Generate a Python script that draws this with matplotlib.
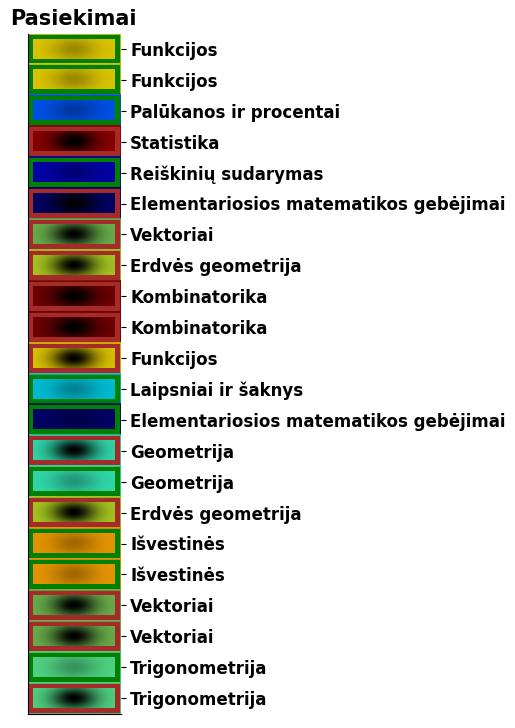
import numpy as np
import matplotlib
matplotlib.use('Agg')
import matplotlib.pyplot as plt
from matplotlib.patches import Rectangle
from matplotlib.colors import to_rgb

# topics, top to bottom
topics = ['Funkcijos', 'Funkcijos', 'Palūkanos ir procentai', 'Statistika',
          'Reiškinių sudarymas', 'Elementariosios matematikos gebėjimai',
          'Vektoriai', 'Erdvės geometrija', 'Kombinatorika', 'Kombinatorika',
          'Funkcijos', 'Laipsniai ir šaknys',
          'Elementariosios matematikos gebėjimai', 'Geometrija', 'Geometrija',
          'Erdvės geometrija', 'Išvestinės', 'Išvestinės', 'Vektoriai',
          'Vektoriai', 'Trigonometrija', 'Trigonometrija']

# passed (green) or failed (red)
passed = [True, True, True, False, True, False, False, False, False, False,
          False, True, True, False, True, False, True, True, False, False,
          True, False]

topic_colors = {
    'Funkcijos': '#DCC400',
    'Palūkanos ir procentai': '#0050E6',
    'Statistika': '#8B0000',
    'Reiškinių sudarymas': '#0000A8',
    'Elementariosios matematikos gebėjimai': '#000066',
    'Vektoriai': '#6AB04C',
    'Erdvės geometrija': '#A8C820',
    'Kombinatorika': '#700000',
    'Laipsniai ir šaknys': '#00BCD4',
    'Geometrija': '#30D8AA',
    'Išvestinės': '#E69500',
    'Trigonometrija': '#50D282',
}

ok_bg = '#008000'
bad_bg = '#A52A2A'

fig = plt.figure(figsize=(5.15, 7.28), dpi=100)
ax = fig.add_axes([27.5 / 515, 1 - 713.5 / 728, 93 / 515, 680 / 728])

# shading mask for the inner boxes
nx, ny = 80, 20
gx, gy = np.meshgrid(np.linspace(-1, 1, nx), np.linspace(-1, 1, ny))
blob = np.exp(-(gx ** 2 / 0.3 + gy ** 2 / 1.4))

n = len(topics)
for i, (t, p) in enumerate(zip(topics, passed)):
    col = topic_colors[t]
    ax.add_patch(Rectangle((0, i), 1, 1, facecolor=ok_bg if p else bad_bg,
                           edgecolor=col, lw=1.2, zorder=1))
    depth = 0.3 if p else 1.0
    img = np.array(to_rgb(col))[None, None, :] * (1 - depth * blob)[:, :, None]
    ax.imshow(img, extent=(0.06, 0.935, i + 0.81, i + 0.19), aspect='auto',
              interpolation='bilinear', zorder=2)

ax.set_xlim(0, 1)
ax.set_ylim(n, 0)
ax.set_xticks([])
ax.yaxis.tick_right()
ax.set_yticks(np.arange(n) + 0.5)
ax.set_yticklabels(topics, fontsize=12, fontweight='bold')
ax.spines['top'].set_visible(False)
ax.spines['right'].set_visible(False)
ax.spines['left'].set_zorder(5)
ax.spines['bottom'].set_zorder(5)

fig.text(10 / 515, 1 - 19 / 728, 'Pasiekimai', fontsize=15, fontweight='bold',
         ha='left', va='center')

fig.savefig('out.png', dpi=100)
